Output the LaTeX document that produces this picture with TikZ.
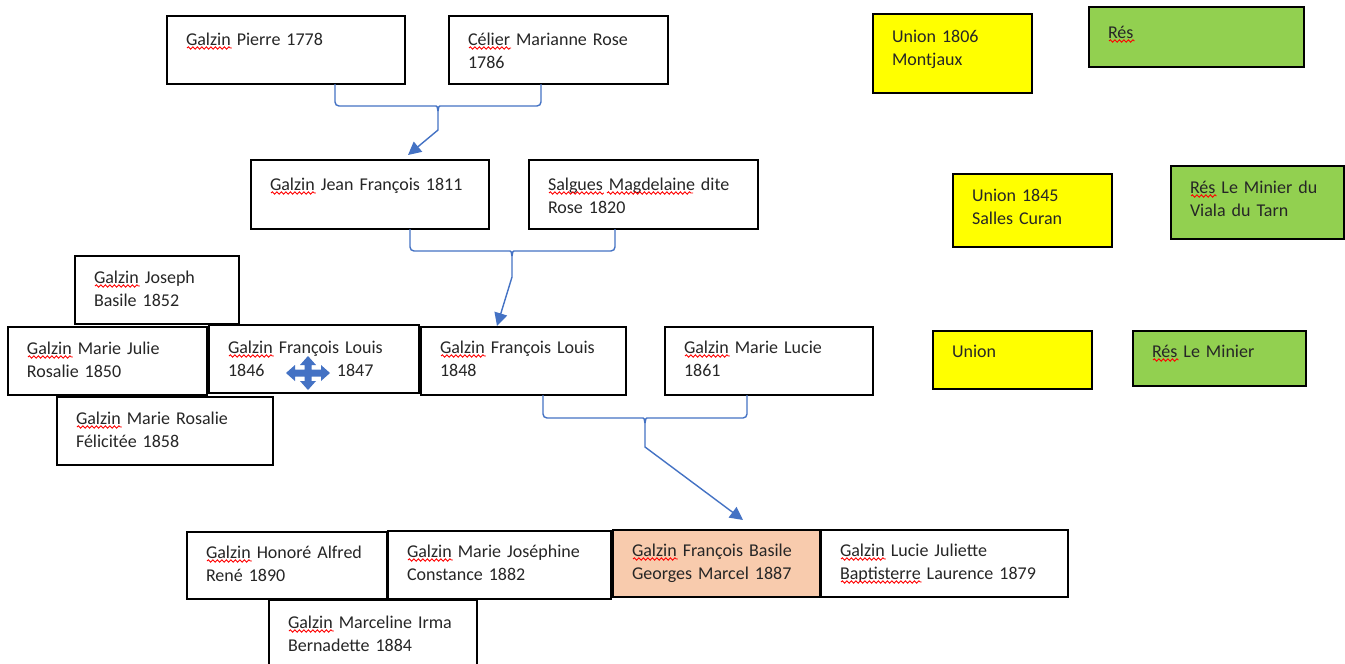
\documentclass[tikz,border=0pt]{standalone}
\usepackage{fontspec}
\setmainfont{Carlito}
\usepackage{xcolor}
\usetikzlibrary{arrows.meta,decorations.pathmorphing}
\newcommand\boxfont{\fontsize{18}{23}\selectfont}
% red spell-check squiggle: #1 node, #2 text before the word on its line, #3 word, #4 line index
\newcommand\squig[4]{%
  \node[sqghost] (sqa) at ([xshift=19pt,yshift=-#4*23pt]#1.base west) {\phantom{#2}};
  \node[sqghost] (sqb) at (sqa.base east) {\phantom{#3}};
  \draw[sqline] ([yshift=-3pt]sqb.base west) -- ([yshift=-3pt]sqb.base east);}
\definecolor{cblue}{HTML}{4472C4}
\definecolor{yel}{HTML}{FFFF00}
\definecolor{grn}{HTML}{92D050}
\definecolor{org}{HTML}{F8CBAD}
\definecolor{txt}{HTML}{262626}
% #1 extra style, #2 name, #3 x, #4 y, #5 width, #6 height, #7 baseline offset, #8 text
\newcommand\famnode[8][]{%
  \pgfmathsetmacro\fntw{#5-38}\pgfmathsetmacro\fntd{#6-#7}%
  \node[box,#1,anchor=north west,minimum width=#5pt,text width=\fntw pt,text height=#7pt,text depth=\fntd pt] (#2) at (#3,#4) {#8};}
\begin{document}
\begin{tikzpicture}[x=1pt,y=-1pt,
  box/.style={draw=black,line width=1.4pt,fill=white,inner xsep=19pt,inner ysep=0pt,outer sep=0pt,align=left,font=\boxfont,text=txt},
  conn/.style={draw=cblue,line width=1.4pt},
  tip/.style={-{Triangle[length=13pt,width=13pt]}},
  sqghost/.style={anchor=base west,inner sep=0pt,outer sep=0pt,font=\boxfont},
  sqline/.style={draw=red,line width=0.9pt,decorate,decoration={snake,amplitude=1.2pt,segment length=4.5pt}},
  movecur/.style={fill=cblue}]
\clip (0,0) rectangle (1345,664);
\fill[white] (0,0) rectangle (1345,664);

% generation 1
\famnode{pierre}{167}{16}{238}{68}{29}{Galzin Pierre 1778}
\famnode{celier}{449}{16}{219}{68}{29}{Célier Marianne Rose\\1786}
% generation 2
\famnode{jf}{251}{160}{238}{69}{30}{Galzin Jean François 1811}
\famnode{salgues}{529}{160}{229}{69}{30}{Salgues Magdelaine dite\\Rose 1820}
% generation 3
\famnode{joseph}{75}{256}{164}{68}{27}{Galzin Joseph\\Basile 1852}
\famnode{mjulie}{8}{327}{199}{68}{27}{Galzin Marie Julie\\Rosalie 1850}
\famnode{fl46}{209}{325}{210}{68}{28}{Galzin François Louis\\1846\hspace*{72.5pt}1847}
\famnode{fl48}{421}{327}{205}{68}{26}{Galzin François Louis\\1848}
\famnode{lucie}{665}{327}{208}{68}{26}{Galzin Marie Lucie\\1861}
\famnode{rosalie}{57}{397}{216}{68}{27}{Galzin Marie Rosalie\\Félicitée 1858}
% generation 4
\famnode{honore}{187}{532}{200}{67}{26}{Galzin Honoré Alfred\\René 1890}
\famnode{mjos}{388}{531}{223}{68}{26}{Galzin Marie Joséphine\\Constance 1882}
\famnode[fill=org]{basile}{613}{530}{207}{67}{26}{Galzin François Basile\\Georges Marcel 1887}
\famnode{luciej}{821}{530}{247}{67}{26}{Galzin Lucie Juliette\\Baptisterre Laurence 1879}
\famnode{marceline}{269}{600}{208}{75}{28}{Galzin Marceline Irma\\Bernadette 1884}
% unions and residences
\famnode[fill=yel]{u1806}{873}{14}{159}{79}{28}{Union 1806\\Montjaux}
\famnode[fill=grn]{res1}{1089}{7}{215}{60}{31}{Rés}
\famnode[fill=yel]{u1845}{953}{174}{159}{73}{27}{Union 1845\\Salles Curan}
\famnode[fill=grn]{res2}{1171}{166}{173}{73}{27}{Rés Le Minier du\\Viala du Tarn}
\famnode[fill=yel]{u3}{933}{331}{159}{58}{26}{Union}
\famnode[fill=grn]{res3}{1133}{331}{173}{55}{26}{Rés Le Minier}

% spell-check squiggles
\squig{pierre}{}{Galzin}{0}
\squig{celier}{}{Célier}{0}
\squig{jf}{}{Galzin}{0}
\squig{salgues}{}{Salgues}{0}
\squig{salgues}{\mbox{Salgues\ }}{Magdelaine}{0}
\squig{joseph}{}{Galzin}{0}
\squig{mjulie}{}{Galzin}{0}
\squig{fl46}{}{Galzin}{0}
\squig{fl48}{}{Galzin}{0}
\squig{lucie}{}{Galzin}{0}
\squig{rosalie}{}{Galzin}{0}
\squig{honore}{}{Galzin}{0}
\squig{mjos}{}{Galzin}{0}
\squig{basile}{}{Galzin}{0}
\squig{luciej}{}{Galzin}{0}
\squig{luciej}{}{Baptisterre}{1}
\squig{marceline}{}{Galzin}{0}
\squig{res1}{}{Rés}{0}
\squig{res2}{}{Rés}{0}
\squig{res3}{}{Rés}{0}

% bracket 1
\coordinate (b1l) at (335,106);
\coordinate (b1r) at (541,106);
\coordinate (b1c) at (438,106);
\coordinate (b1s) at (438,130);
\coordinate (b1t) at (408,155);
\draw[conn,rounded corners=4pt] (pierre.south -| b1l) -- (b1l) -- ([xshift=-6pt]b1c) .. controls ([xshift=-1pt]b1c) .. ([yshift=-5pt]b1c);
\draw[conn,rounded corners=4pt] (celier.south -| b1r) -- (b1r) -- ([xshift=6pt]b1c) .. controls ([xshift=1pt]b1c) .. ([yshift=-5pt]b1c);
\draw[conn,tip] ([yshift=-5pt]b1c) -- (b1s) -- (b1t);

% bracket 2
\coordinate (b2l) at (410,251);
\coordinate (b2r) at (615,251);
\coordinate (b2c) at (512,251);
\coordinate (b2s) at (512,277);
\coordinate (b2t) at (497,326);
\draw[conn,rounded corners=4pt] (jf.south -| b2l) -- (b2l) -- ([xshift=-6pt]b2c) .. controls ([xshift=-1pt]b2c) .. ([yshift=-5pt]b2c);
\draw[conn,rounded corners=4pt] (salgues.south -| b2r) -- (b2r) -- ([xshift=6pt]b2c) .. controls ([xshift=1pt]b2c) .. ([yshift=-5pt]b2c);
\draw[conn,tip] ([yshift=-5pt]b2c) -- (b2s) -- (b2t);

% bracket 3
\coordinate (b3l) at (543,418);
\coordinate (b3r) at (747,418);
\coordinate (b3c) at (645,418);
\coordinate (b3s) at (645,447);
\coordinate (b3t) at (743,520);
\draw[conn,rounded corners=4pt] (fl48.south -| b3l) -- (b3l) -- ([xshift=-6pt]b3c) .. controls ([xshift=-1pt]b3c) .. ([yshift=-5pt]b3c);
\draw[conn,rounded corners=4pt] (lucie.south -| b3r) -- (b3r) -- ([xshift=6pt]b3c) .. controls ([xshift=1pt]b3c) .. ([yshift=-5pt]b3c);
\draw[conn,tip] ([yshift=-5pt]b3c) -- (b3s) -- (b3t);

% four-way move cursor
\begin{scope}[shift={(308,373)}]
\fill[movecur] (3.5,-3.5) -- (13,-3.5) -- (13,-8) -- (22,0) -- (13,8) -- (13,3.5) -- (3.5,3.5)
  -- (3.5,8) -- (8,8) -- (0,17) -- (-8,8) -- (-3.5,8) -- (-3.5,3.5)
  -- (-13,3.5) -- (-13,8) -- (-22,0) -- (-13,-8) -- (-13,-3.5) -- (-3.5,-3.5)
  -- (-3.5,-8) -- (-8,-8) -- (0,-17) -- (8,-8) -- (3.5,-8) -- cycle;
\end{scope}
\end{tikzpicture}
\end{document}
